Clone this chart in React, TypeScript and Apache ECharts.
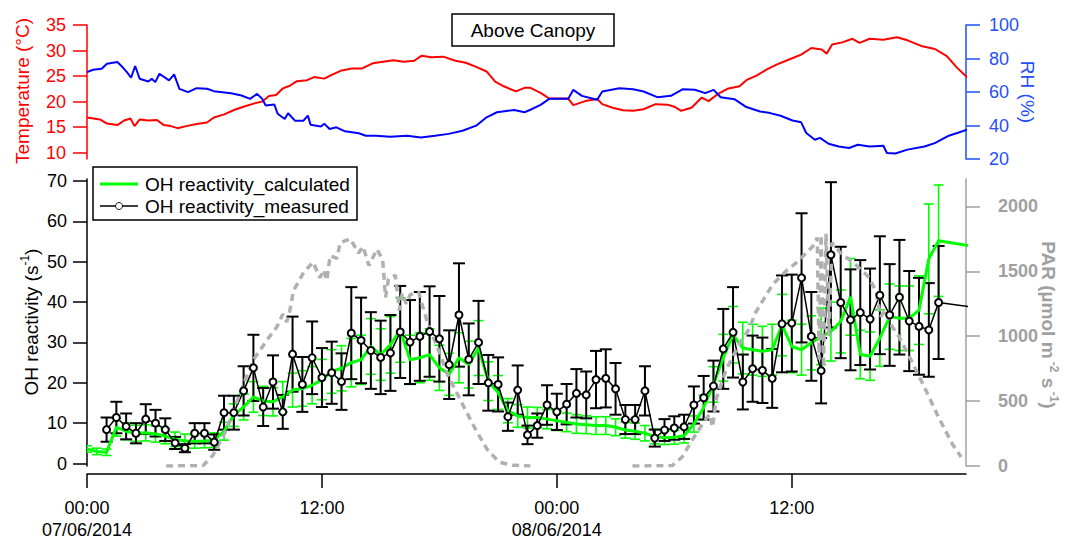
import React, { useEffect, useRef } from "react";
import * as echarts from "echarts";

const FONT = "Liberation Sans, Arial, Helvetica, sans-serif";

// ---- axis ticks ----
const xTickHours = [0, 12, 24, 36];
const xTickLabels = ["00:00\n07/06/2014", "12:00", "00:00\n08/06/2014", "12:00"];
const tempTicks = [10, 15, 20, 25, 30, 35];
const rhTicks = [20, 40, 60, 80, 100];
const ohTicks = [0, 10, 20, 30, 40, 50, 60, 70];
const parTicks = [0, 500, 1000, 1500, 2000];

// ---- top panel: [hour, value] ----
const temperature = [
  [0.0, 16.9], [0.66, 16.5], [1.02, 15.7], [1.55, 15.4], [1.9, 16.3], [2.22, 16.7], [2.43, 15.2], [2.69, 16.5],
  [3.13, 16.3], [3.57, 16.4], [3.93, 15.4], [4.28, 15.2], [4.63, 14.8], [5.07, 15.2], [5.6, 15.6], [6.13, 15.9],
  [6.48, 16.9], [7.01, 17.5], [7.54, 18.4], [8.07, 19.1], [8.6, 19.7], [8.95, 20.0], [9.3, 21.1], [9.66, 21.3],
  [10.01, 22.6], [10.36, 23.1], [10.72, 24.0], [11.24, 24.2], [11.6, 24.8], [12.12, 24.5], [12.47, 25.2],
  [13.01, 26.1], [13.53, 26.5], [14.06, 26.5], [14.59, 27.5], [15.12, 27.8], [15.65, 28.1], [16.18, 27.8],
  [16.71, 28.0], [17.1, 29.0], [17.59, 28.7], [18.2, 28.8], [18.82, 28.0], [19.35, 27.6], [19.88, 26.8],
  [20.41, 25.9], [20.85, 23.9], [21.29, 23.0], [21.91, 22.0], [22.35, 22.7], [22.65, 22.7], [23.17, 21.7],
  [23.61, 20.6], [24.58, 20.6], [24.84, 19.3], [25.45, 20.1], [26.06, 20.5], [26.32, 19.5], [26.85, 18.8],
  [27.38, 18.3], [27.9, 18.2], [28.43, 18.5], [29.04, 19.5], [29.65, 19.4], [30.0, 19.0], [30.35, 18.2],
  [30.88, 18.8], [31.4, 20.8], [31.75, 20.1], [32.19, 21.4], [32.71, 22.5], [33.33, 23.0], [33.68, 24.2],
  [34.2, 25.1], [34.73, 26.3], [35.25, 27.3], [35.96, 28.4], [36.48, 29.2], [37.0, 30.5], [37.53, 30.2],
  [37.79, 29.4], [38.06, 31.2], [38.58, 31.6], [39.1, 32.3], [39.46, 31.5], [39.98, 32.3], [40.68, 32.1],
  [41.38, 32.6], [41.91, 32.0], [42.61, 30.9], [43.31, 30.3], [43.92, 28.9], [44.45, 26.6], [44.97, 24.7],
];

const relHumidity = [
  [0.0, 71.9], [0.31, 73.3], [0.75, 73.9], [1.02, 76.9], [1.55, 77.9], [1.81, 74.9], [2.04, 71.9], [2.25, 68.5],
  [2.46, 75.5], [2.69, 67.9], [3.13, 66.3], [3.31, 67.9], [3.49, 65.9], [3.7, 70.9], [4.19, 66.9], [4.45, 70.5],
  [4.72, 61.9], [5.16, 59.9], [5.6, 62.3], [6.13, 61.9], [6.48, 60.5], [6.92, 59.9], [7.36, 59.3], [7.89, 57.9],
  [8.33, 55.9], [8.69, 58.9], [8.95, 55.9], [9.13, 51.9], [9.57, 52.5], [9.74, 47.0], [10.1, 43.9], [10.27, 47.3],
  [10.62, 42.9], [11.06, 42.9], [11.28, 45.9], [11.42, 40.5], [11.95, 39.4], [12.12, 41.1], [12.39, 37.9],
  [12.74, 38.9], [13.18, 36.5], [13.89, 35.4], [14.24, 33.9], [14.77, 33.9], [15.48, 33.3], [16.35, 33.9],
  [17.06, 32.9], [17.77, 33.9], [18.47, 35.0], [19.18, 36.9], [19.88, 39.9], [20.41, 44.9], [20.94, 47.9],
  [21.82, 49.3], [22.35, 47.9], [22.65, 49.4], [23.17, 52.3], [23.61, 55.9], [24.58, 55.9], [24.84, 61.3],
  [25.28, 57.7], [26.06, 55.4], [26.32, 60.3], [27.2, 62.3], [27.9, 61.7], [28.43, 60.3], [29.13, 56.9],
  [29.83, 57.7], [30.44, 61.7], [31.05, 61.3], [31.58, 59.3], [32.01, 61.3], [32.37, 56.9], [33.07, 55.7],
  [33.68, 51.0], [34.38, 48.4], [34.9, 47.4], [35.43, 45.8], [36.04, 43.0], [36.48, 41.9], [36.74, 35.5],
  [37.18, 31.5], [37.44, 32.6], [37.88, 29.1], [38.4, 27.5], [38.93, 26.6], [39.37, 28.5], [39.98, 27.5],
  [40.68, 27.9], [40.86, 23.6], [41.29, 23.3], [41.91, 25.6], [42.78, 27.5], [43.31, 29.5], [44.02, 33.9],
  [44.45, 35.5], [44.97, 37.5],
];

// ---- bottom panel ----
const calcTime = [
  0, 0.5, 1, 1.5, 2, 2.5, 3, 3.5, 4, 4.5,
  5, 5.5, 6, 6.5, 7, 7.5, 8, 8.5, 9, 9.5,
  10, 10.5, 11, 11.5, 12, 12.5, 13, 13.5, 14, 14.5,
  15, 15.5, 16, 16.5, 17, 17.5, 18, 18.5, 19, 19.5,
  20, 20.5, 21, 21.5, 22, 22.5, 23, 23.5, 24, 24.5,
  25, 25.5, 26, 26.5, 27, 27.5, 28, 28.5, 29, 29.5,
  30, 30.5, 31, 31.5, 32, 32.5, 33, 33.5, 34, 34.5,
  35, 35.5, 36, 36.5, 37, 37.5, 38, 38.5, 39, 39.5,
  40, 40.5, 41, 41.5, 42, 42.5, 43, 43.5, 46,
];
const calcValue = [
  3.6, 3.0, 2.8, 9.0, 8.0, 7.5, 7.6, 7.3, 6.8, 6.0,
  5.6, 5.5, 5.6, 5.8, 8.0, 12.0, 14.0, 16.5, 15.5, 15.3,
  16.5, 18.2, 18.6, 19.4, 20.8, 22.8, 23.6, 25.0, 25.7, 29.0,
  27.0, 29.4, 33.1, 25.7, 26.2, 27.0, 23.7, 22.1, 26.2, 24.5,
  28.6, 20.4, 17.6, 13.1, 11.8, 11.4, 11.4, 11.0, 10.6, 10.2,
  9.8, 9.6, 9.4, 9.4, 9.0, 8.3, 8.0, 7.5, 6.7, 6.4,
  6.5, 6.9, 9.8, 13.9, 19.6, 26.2, 31.9, 28.6, 28.2, 27.8,
  28.2, 34.3, 29.0, 28.2, 29.9, 31.5, 32.7, 35.2, 41.3, 27.0,
  26.6, 31.1, 36.4, 36.0, 36.0, 38.0, 50.7, 55.2, 53.2,
];
const calcError = [
  0.8, 0.8, 0.8, 2.2, 2.1, 2.0, 2.0, 2.0, 1.9, 1.8,
  1.7, 1.7, 1.7, 1.8, 2.2, 2.8, 3.2, 3.8, 3.6, 3.5,
  3.8, 4.2, 4.4, 4.6, 5.0, 5.4, 5.6, 6.0, 6.1, 6.9,
  6.4, 7.0, 8.0, 6.1, 6.2, 6.4, 5.6, 5.2, 6.2, 5.8,
  6.8, 4.8, 4.2, 3.0, 2.8, 2.6, 2.5, 2.4, 2.4, 2.3,
  2.3, 2.2, 2.2, 2.2, 2.1, 2.0, 2.0, 1.9, 1.8, 1.7,
  1.7, 1.8, 2.0, 3.0, 4.4, 5.8, 7.0, 6.4, 6.3, 6.2,
  6.3, 7.6, 6.5, 6.3, 6.7, 7.0, 7.3, 7.8, 9.5, 6.0,
  6.0, 7.0, 8.1, 8.0, 8.0, 8.5, 13.6, 13.8, 13.0,
];

const measTime = [
  1, 1.5, 2, 2.5, 3, 3.5, 4, 4.5, 5, 5.5,
  6, 6.5, 7, 7.5, 8, 8.5, 9, 9.5, 10, 10.5,
  11, 11.5, 12, 12.5, 13, 13.5, 14, 14.5, 15, 15.5,
  16, 16.5, 17, 17.5, 18, 18.5, 19, 19.5, 20, 20.5,
  21, 21.5, 22, 22.5, 23, 23.5, 24, 24.5, 25, 25.5,
  26, 26.5, 27, 27.5, 28, 28.5, 29, 29.5, 30, 30.5,
  31, 31.5, 32, 32.5, 33, 33.5, 34, 34.5, 35, 35.5,
  36, 36.5, 37, 37.5, 38, 38.5, 39, 39.5, 40, 40.5,
  41, 41.5, 42, 42.5, 43, 43.5, 46,
];
const measValue = [
  8.4, 11.4, 9.2, 7.5, 11.0, 10.0, 8.4, 5.1, 3.8, 7.5,
  7.5, 5.3, 12.6, 12.6, 18.0, 23.7, 14.0, 20.2, 12.8, 27.1,
  19.6, 26.2, 21.3, 22.5, 20.3, 32.3, 30.5, 28.0, 26.3, 27.4,
  32.6, 30.1, 31.5, 32.7, 30.9, 24.5, 36.8, 25.8, 30.0, 20.0,
  19.6, 11.6, 18.2, 7.1, 9.4, 14.5, 12.8, 14.7, 17.4, 17.0,
  20.8, 21.1, 18.5, 10.9, 10.9, 18.0, 6.3, 8.3, 8.8, 9.1,
  14.5, 16.3, 19.2, 28.4, 32.5, 20.2, 23.5, 23.1, 21.1, 34.6,
  34.8, 46.0, 31.5, 23.0, 51.7, 39.9, 35.6, 37.4, 35.8, 41.7,
  36.8, 41.2, 35.3, 34.0, 33.1, 39.9, 38.2,
];
const measError = [
  3.0, 3.9, 3.2, 2.5, 3.7, 3.3, 2.8, 1.5, 1.0, 2.5,
  2.5, 1.9, 4.2, 4.2, 6.1, 8.2, 4.7, 6.6, 4.2, 9.3,
  6.8, 9.0, 7.3, 7.7, 7.0, 11.4, 10.6, 9.5, 9.1, 9.4,
  11.4, 10.4, 11.0, 11.2, 10.6, 8.5, 12.8, 8.9, 10.3, 6.9,
  6.7, 3.5, 6.1, 2.3, 3.0, 4.9, 4.5, 5.0, 6.0, 5.8,
  7.1, 7.2, 6.4, 3.6, 3.6, 6.1, 2.1, 2.7, 2.9, 3.0,
  4.6, 5.4, 6.3, 9.9, 11.2, 6.8, 8.2, 8.1, 7.3, 12.0,
  12.0, 16.0, 11.0, 8.1, 18.0, 13.8, 12.5, 13.0, 12.5, 14.6,
  12.6, 14.2, 12.4, 12.0, 11.6, 14.0, 13.0,
];

const parDay1 = [
  [4.04, 0], [5.93, 3], [6.44, 84], [7.14, 284], [7.82, 564], [8.5, 818], [9.19, 970], [9.7, 1072],
  [10.0, 1170], [10.2, 1110], [10.35, 1190], [10.55, 1351], [11.06, 1490], [11.55, 1570], [11.9, 1450],
  [12.08, 1510], [12.25, 1430], [12.42, 1620], [12.77, 1600], [12.93, 1720], [13.45, 1750], [13.87, 1640],
  [14.1, 1690], [14.4, 1545], [14.81, 1670], [15.1, 1590], [15.25, 1300], [15.4, 1440], [15.75, 1470],
  [15.95, 1200], [16.1, 1330], [16.3, 1250], [16.51, 1320], [16.94, 1340], [17.11, 1250], [17.4, 1100],
  [17.96, 890], [18.43, 700], [19.1, 500], [19.8, 295], [20.43, 130], [21.05, 30], [21.75, 5], [22.65, 0],
];
const parDay2 = [
  [27.86, 0], [29.89, 3], [30.4, 69], [30.92, 200], [31.43, 322], [31.81, 400], [31.95, 300], [32.15, 520],
  [32.64, 740], [33.32, 940], [33.8, 1050], [34.18, 1190], [35.03, 1400], [35.7, 1500], [36.3, 1575],
  [37.06, 1690], [37.3, 1760], [37.4, 820], [37.5, 1780], [37.62, 760], [37.75, 1790], [37.9, 1000],
  [38.05, 1720], [38.5, 1640], [39.2, 1560], [39.9, 1460], [40.3, 1350], [40.54, 1150], [40.79, 1200],
  [41.1, 1080], [41.46, 1000], [42.15, 800], [42.83, 590], [43.5, 375], [44.2, 170], [44.65, 70],
];

const GREEN = "#00ff00";
const RED = "#ff0000";
const BLUE = "#0000ff";
const BLUE_AXIS = "#1f4fff";
const GRAY = "#b0b0b0";
const GRAY_AXIS = "#a0a0a0";

function errorBarRenderer(color: string, width: number, cap: number) {
  return (params: any, api: any) => {
    const x = api.value(0);
    const lo = api.coord([x, api.value(1)]);
    const hi = api.coord([x, api.value(2)]);
    const style = { stroke: color, lineWidth: width };
    return {
      type: "group",
      children: [
        { type: "line", shape: { x1: lo[0], y1: lo[1], x2: hi[0], y2: hi[1] }, style },
        { type: "line", shape: { x1: lo[0] - cap, y1: lo[1], x2: lo[0] + cap, y2: lo[1] }, style },
        { type: "line", shape: { x1: hi[0] - cap, y1: hi[1], x2: hi[0] + cap, y2: hi[1] }, style },
      ],
    };
  };
}

function buildOption(): any {
  const calcLine = calcTime.map((t, i) => [t, calcValue[i]]);
  const calcErr = calcTime.map((t, i) => [t, calcValue[i] - calcError[i], calcValue[i] + calcError[i]]);
  const measLine = measTime.map((t, i) =>
    t > 44.9 ? { value: [t, measValue[i]], symbol: "none" } : [t, measValue[i]]
  );
  const measErr = measTime.map((t, i) => [t, measValue[i] - measError[i], measValue[i] + measError[i]]);

  const axisCommon = (color: string, ticks: number[]) => ({
    axisLine: { show: true, onZero: false, lineStyle: { color, width: 1.5 } },
    axisTick: { show: true, inside: false, length: 14, customValues: ticks, lineStyle: { color, width: 1.5 } },
    splitLine: { show: false },
  });
  const plain = (v: number) => String(Math.round(v));

  return {
    animation: false,
    backgroundColor: "#ffffff",
    textStyle: { fontFamily: FONT },
    grid: [
      { left: 87, right: 101, top: 25, height: 134 },
      { left: 87, right: 101, top: 179, height: 290 },
    ],
    xAxis: [
      { type: "value", gridIndex: 0, min: 0, max: 44.9, show: false },
      {
        type: "value",
        gridIndex: 1,
        min: 0,
        max: 44.9,
        position: "bottom",
        offset: 8,
        axisLine: { show: true, onZero: false, lineStyle: { color: "#000", width: 1.5 } },
        axisTick: { show: true, inside: false, length: 14, customValues: xTickHours, lineStyle: { color: "#000", width: 1.5 } },
        axisLabel: {
          customValues: xTickHours,
          color: "#000",
          fontSize: 18,
          lineHeight: 22,
          margin: 23,
          fontFamily: FONT,
          formatter: (v: number) => {
            const i = xTickHours.indexOf(Math.round(v));
            return i >= 0 ? xTickLabels[i] : "";
          },
        },
        splitLine: { show: false },
      },
    ],
    yAxis: [
      {
        type: "value",
        gridIndex: 0,
        position: "left",
        min: 8.76,
        max: 35,
        ...axisCommon(RED, tempTicks),
        axisLabel: { customValues: tempTicks, color: RED, fontSize: 18, margin: 21, fontFamily: FONT, formatter: plain },
      },
      {
        type: "value",
        gridIndex: 0,
        position: "right",
        min: 20,
        max: 100,
        ...axisCommon(BLUE_AXIS, rhTicks),
        axisLabel: { customValues: rhTicks, color: BLUE_AXIS, fontSize: 18, margin: 23, fontFamily: FONT, formatter: plain },
      },
      {
        type: "value",
        gridIndex: 1,
        position: "left",
        min: -0.61,
        max: 70.49,
        ...axisCommon("#000", ohTicks),
        axisLabel: { customValues: ohTicks, color: "#000", fontSize: 18, margin: 20, fontFamily: FONT, formatter: plain },
      },
      {
        type: "value",
        gridIndex: 1,
        position: "right",
        min: 0,
        max: 2211,
        ...axisCommon(GRAY_AXIS, parTicks),
        axisLabel: {
          customValues: parTicks,
          color: GRAY_AXIS,
          fontSize: 18,
          fontWeight: "bold",
          margin: 32,
          fontFamily: FONT,
          formatter: plain,
        },
      },
    ],
    series: [
      {
        name: "Temperature",
        type: "line",
        xAxisIndex: 0,
        yAxisIndex: 0,
        data: temperature,
        symbol: "none",
        lineStyle: { color: RED, width: 2 },
      },
      {
        name: "RH",
        type: "line",
        xAxisIndex: 0,
        yAxisIndex: 1,
        data: relHumidity,
        symbol: "none",
        lineStyle: { color: BLUE, width: 2 },
      },
      {
        name: "calc error",
        type: "custom",
        xAxisIndex: 1,
        yAxisIndex: 2,
        data: calcErr,
        encode: { x: 0, y: [1, 2] },
        clip: true,
        renderItem: errorBarRenderer(GREEN, 1.6, 5),
      },
      {
        name: "OH reactivity_calculated",
        type: "line",
        xAxisIndex: 1,
        yAxisIndex: 2,
        data: calcLine,
        symbol: "none",
        clip: true,
        lineStyle: { color: GREEN, width: 3 },
      },
      {
        name: "meas error",
        type: "custom",
        xAxisIndex: 1,
        yAxisIndex: 2,
        data: measErr,
        encode: { x: 0, y: [1, 2] },
        clip: true,
        renderItem: errorBarRenderer("#000", 2, 6),
      },
      {
        name: "OH reactivity_measured",
        type: "line",
        xAxisIndex: 1,
        yAxisIndex: 2,
        data: measLine,
        symbol: "emptyCircle",
        symbolSize: 7,
        clip: true,
        itemStyle: { color: "#000", borderWidth: 0.9, borderColor: "#000" },
        lineStyle: { color: "#000", width: 1.5 },
      },
      {
        name: "PAR day 1",
        type: "line",
        xAxisIndex: 1,
        yAxisIndex: 3,
        data: parDay1,
        symbol: "none",
        lineStyle: { color: GRAY, width: 3.5, type: [7, 5] },
      },
      {
        name: "PAR day 2",
        type: "line",
        xAxisIndex: 1,
        yAxisIndex: 3,
        data: parDay2,
        symbol: "none",
        lineStyle: { color: GRAY, width: 3.5, type: [7, 5] },
      },
    ],
    graphic: [
      // "Above Canopy" label box
      {
        type: "rect",
        z: 100,
        shape: { x: 452, y: 14, width: 162, height: 32 },
        style: { fill: "#fff", stroke: "#000", lineWidth: 1.5 },
      },
      {
        type: "text",
        z: 101,
        x: 533,
        y: 30,
        style: { text: "Above Canopy", fill: "#000", fontSize: 19, fontFamily: FONT, align: "center", verticalAlign: "middle" },
      },
      // legend box
      {
        type: "rect",
        z: 100,
        shape: { x: 93, y: 167, width: 264, height: 53 },
        style: { fill: "#fff", stroke: "#000", lineWidth: 1.5 },
      },
      {
        type: "line",
        z: 101,
        shape: { x1: 100, y1: 184, x2: 138, y2: 184 },
        style: { stroke: GREEN, lineWidth: 3 },
      },
      {
        type: "text",
        z: 101,
        x: 145,
        y: 184,
        style: { text: "OH reactivity_calculated", fill: "#000", fontSize: 19, fontFamily: FONT, align: "left", verticalAlign: "middle" },
      },
      {
        type: "line",
        z: 101,
        shape: { x1: 100, y1: 206, x2: 138, y2: 206 },
        style: { stroke: "#000", lineWidth: 1.5 },
      },
      {
        type: "circle",
        z: 102,
        shape: { cx: 119, cy: 206, r: 3.5 },
        style: { fill: "#fff", stroke: "#000", lineWidth: 0.9 },
      },
      {
        type: "text",
        z: 101,
        x: 145,
        y: 206,
        style: { text: "OH reactivity_measured", fill: "#000", fontSize: 19, fontFamily: FONT, align: "left", verticalAlign: "middle" },
      },
      // axis titles
      {
        type: "text",
        x: 22,
        y: 91,
        rotation: Math.PI / 2,
        style: { text: "Temperature (°C)", fill: RED, fontSize: 19, fontFamily: FONT, align: "center", verticalAlign: "middle" },
      },
      {
        type: "text",
        x: 1027,
        y: 92,
        rotation: -Math.PI / 2,
        style: { text: "RH (%)", fill: BLUE_AXIS, fontSize: 19, fontFamily: FONT, align: "center", verticalAlign: "middle" },
      },
      {
        type: "text",
        x: 31,
        y: 322,
        rotation: Math.PI / 2,
        style: {
          text: "OH reactivity (s{sup|-1})",
          fill: "#000",
          fontSize: 19,
          lineHeight: 24,
          fontFamily: FONT,
          align: "center",
          verticalAlign: "middle",
          rich: { sup: { fontSize: 12, lineHeight: 12, verticalAlign: "top", fill: "#000", fontFamily: FONT } },
        },
      },
      {
        type: "text",
        x: 1048,
        y: 325,
        rotation: -Math.PI / 2,
        style: {
          text: "PAR (µmol m{sup| -2} s{sup| -1})",
          fill: GRAY_AXIS,
          fontSize: 19,
          fontWeight: "bold",
          lineHeight: 24,
          fontFamily: FONT,
          align: "center",
          verticalAlign: "middle",
          rich: {
            sup: { fontSize: 12, lineHeight: 12, verticalAlign: "top", fill: GRAY_AXIS, fontWeight: "bold", fontFamily: FONT },
          },
        },
      },
    ],
  };
}

export default function App() {
  const ref = useRef<HTMLDivElement>(null);
  useEffect(() => {
    document.body.style.margin = "0";
    if (!ref.current) return;
    const chart = echarts.init(ref.current, undefined, { renderer: "svg" });
    chart.setOption(buildOption());
    return () => chart.dispose();
  }, []);
  return <div ref={ref} style={{ width: 1067, height: 541 }} />;
}
